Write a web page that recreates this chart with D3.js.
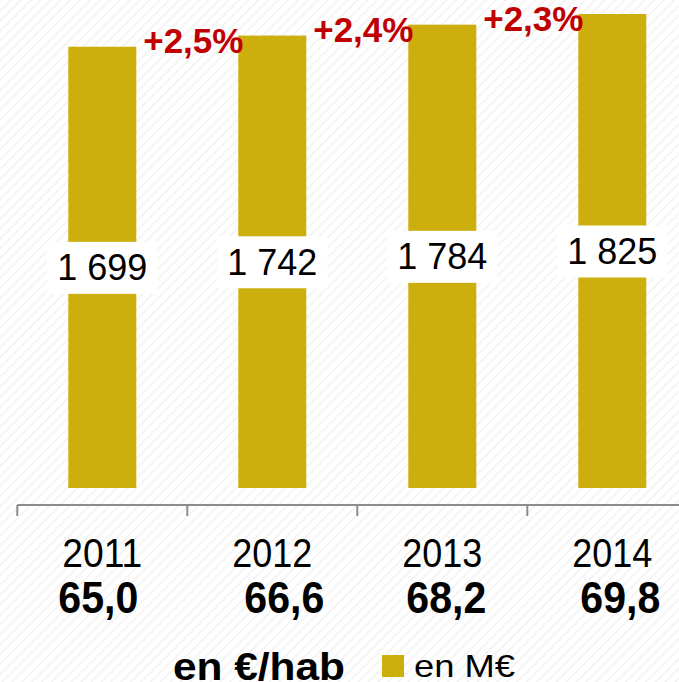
<!DOCTYPE html>
<html>
<head>
<meta charset="utf-8">
<script src="https://cdn.jsdelivr.net/npm/d3@7"></script>
<style>
  html, body { margin: 0; padding: 0; background: #fff; }
  svg { display: block; }
</style>
</head>
<body>
<div id="chart"></div>
<script>
// data
const years = ["2011", "2012", "2013", "2014"];
const totalM = [1699, 1742, 1784, 1825];          // en M€
const totalLabels = ["1 699", "1 742", "1 784", "1 825"];
const perHab = ["65,0", "66,6", "68,2", "69,8"];  // en €/hab
const growth = ["+2,5%", "+2,4%", "+2,3%"];

const w = 679, h = 682;
const gold = "#CCAE0C", red = "#C00000";
const sans = "'Liberation Sans', Arial, sans-serif";

const svg = d3.select("#chart").append("svg")
  .attr("width", w)
  .attr("height", h);

// faint diagonal hatching of the slide background
const pat = svg.append("defs").append("pattern")
  .attr("id", "hatch")
  .attr("width", 7).attr("height", 7)
  .attr("patternUnits", "userSpaceOnUse")
  .attr("patternTransform", "rotate(45)");
pat.append("rect").attr("width", 7).attr("height", 7).attr("fill", "#fff");
pat.append("line").attr("x1", 0).attr("y1", 0).attr("x2", 0).attr("y2", 7)
  .attr("stroke", "#f1f1f1").attr("stroke-width", 3);
svg.append("rect").attr("width", w).attr("height", h).attr("fill", "url(#hatch)");

const xScale = d3.scaleBand()
  .domain(years)
  .range([17.3, 17.3 + 170 * years.length]);
const bw = xScale.bandwidth();

const yScale = d3.scaleLinear()
  .domain([0, d3.max(totalM)])
  .range([488, 14]);

const axisY = 505;

// bars
svg.selectAll("rect.bar")
  .data(years)
  .enter()
  .append("rect")
  .attr("class", "bar")
  .attr("x", d => xScale(d) + bw * 0.3)
  .attr("y", (d, i) => yScale(totalM[i]))
  .attr("width", bw * 0.4)
  .attr("height", (d, i) => yScale(0) - yScale(totalM[i]))
  .attr("fill", gold);

// value labels on white boxes, centred in the bars
const lab = svg.selectAll("g.lab")
  .data(years)
  .enter()
  .append("g")
  .attr("class", "lab");
lab.append("rect").attr("fill", "#fff");
lab.append("text")
  .attr("x", d => xScale(d) + bw / 2)
  .attr("y", (d, i) => (yScale(totalM[i]) + yScale(0)) / 2 + 13)
  .attr("text-anchor", "middle")
  .style("font-family", sans)
  .style("font-size", "36px")
  .attr("fill", "#000")
  .text((d, i) => totalLabels[i]);
lab.each(function () {
  const g = d3.select(this);
  const b = g.select("text").node().getBBox();
  const cy = b.y + b.height / 2;
  g.select("rect")
    .attr("x", b.x - 10)
    .attr("y", cy - 26)
    .attr("width", b.width + 20)
    .attr("height", 52);
});

// growth labels between bars
svg.selectAll("text.growth")
  .data(growth)
  .enter()
  .append("text")
  .attr("class", "growth")
  .attr("x", (d, i) => xScale(years[i + 1]) + 6)
  .attr("y", (d, i) => yScale(totalM[i + 1]) + 17)
  .attr("text-anchor", "middle")
  .style("font-family", sans)
  .style("font-weight", "bold")
  .style("font-size", "35px")
  .attr("fill", red)
  .text(d => d);

// category axis
svg.append("line")
  .attr("x1", xScale(years[0])).attr("x2", w)
  .attr("y1", axisY).attr("y2", axisY)
  .attr("stroke", "#8c8c8c").attr("stroke-width", 2);
svg.selectAll("line.tick")
  .data(years)
  .enter()
  .append("line")
  .attr("class", "tick")
  .attr("x1", d => xScale(d)).attr("x2", d => xScale(d))
  .attr("y1", axisY).attr("y2", axisY + 11)
  .attr("stroke", "#8c8c8c").attr("stroke-width", 2);

// narrow-looking category texts
svg.selectAll("text.year")
  .data(years)
  .enter()
  .append("text")
  .attr("class", "year")
  .attr("x", d => xScale(d) + bw / 2)
  .attr("y", 567)
  .attr("text-anchor", "middle")
  .attr("textLength", 80)
  .attr("lengthAdjust", "spacingAndGlyphs")
  .style("font-family", sans)
  .style("font-size", "40px")
  .attr("fill", "#000")
  .text(d => d);

svg.selectAll("text.hab")
  .data(perHab)
  .enter()
  .append("text")
  .attr("class", "hab")
  .attr("x", (d, i) => xScale(years[i]) + bw / 2 + [-4, 12, 4, 8][i])
  .attr("y", 613)
  .attr("text-anchor", "middle")
  .attr("textLength", 80)
  .attr("lengthAdjust", "spacingAndGlyphs")
  .style("font-family", sans)
  .style("font-weight", "bold")
  .style("font-size", "45px")
  .attr("fill", "#000")
  .text(d => d);

// legend
svg.append("text")
  .attr("x", 173).attr("y", 680)
  .attr("textLength", 172)
  .attr("lengthAdjust", "spacingAndGlyphs")
  .style("font-family", sans)
  .style("font-weight", "bold")
  .style("font-size", "38px")
  .attr("fill", "#000")
  .text("en €/hab");
svg.append("rect")
  .attr("x", 382).attr("y", 655)
  .attr("width", 22).attr("height", 22)
  .attr("fill", gold);
svg.append("text")
  .attr("x", 414).attr("y", 677)
  .attr("textLength", 101)
  .attr("lengthAdjust", "spacingAndGlyphs")
  .style("font-family", sans)
  .style("font-size", "32px")
  .attr("fill", "#000")
  .text("en M€");
</script>
</body>
</html>
